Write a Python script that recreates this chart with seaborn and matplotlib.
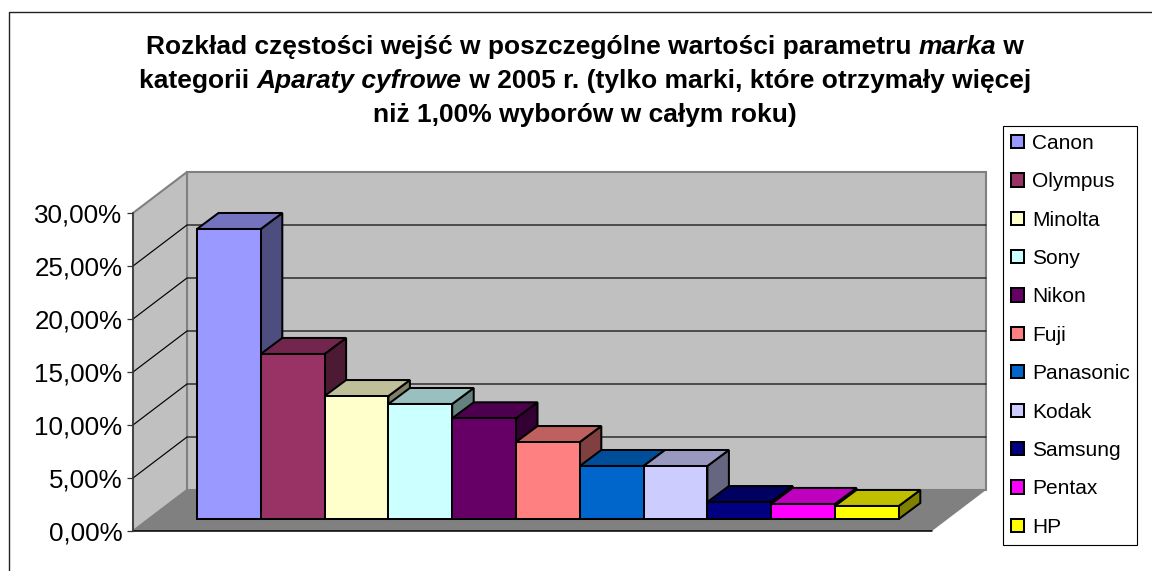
import matplotlib
matplotlib.use('Agg')
import matplotlib.pyplot as plt
import pandas as pd
import seaborn as sns
from matplotlib.colors import to_rgb
from matplotlib.lines import Line2D
from matplotlib.patches import Polygon
from matplotlib.ticker import FuncFormatter

# dane
marki = ['Canon', 'Olympus', 'Minolta', 'Sony', 'Nikon', 'Fuji', 'Panasonic',
         'Kodak', 'Samsung', 'Pentax', 'HP']
udzial = [27.36, 15.57, 11.6, 10.85, 9.5, 7.26, 5.0, 5.0, 1.6, 1.42, 1.23]
kolory = ['#9999FF', '#993366', '#FFFFCC', '#CCFFFF', '#660066', '#FF8080',
          '#0066CC', '#CCCCFF', '#000080', '#FF00FF', '#FFFF00']
y_ticks = [0, 5, 10, 15, 20, 25, 30]
tytul = [
    [('Rozkład częstości wejść w poszczególne wartości parametru ', 'normal'),
     ('marka', 'italic'), (' w', 'normal')],
    [('kategorii ', 'normal'), ('Aparaty cyfrowe', 'italic'),
     (' w 2005 r. (tylko marki, które otrzymały więcej', 'normal')],
    [('niż 1,00% wyborów w całym roku)', 'normal')],
]

W, H = 1152, 571
PX_CAT = 63.8   # szerokosc slupka w pikselach
PX_PCT = 10.6   # pikseli na 1%
BAR_X0 = 197    # lewa krawedz pierwszego slupka
BAR_Y0 = 519    # podstawa slupkow


def dx(px):
    return (px - BAR_X0) / PX_CAT - 0.5


def dy(py):
    return (BAR_Y0 - py) / PX_PCT


sns.set_theme(style='white')
plt.rcParams['font.family'] = ['Liberation Sans', 'DejaVu Sans']
plt.rcParams['text.color'] = 'black'

fig = plt.figure(figsize=(W / 100, H / 100), dpi=100, facecolor='white')
ax = fig.add_axes([0, 0, 1, 1])

df = pd.DataFrame({'marka': marki, 'udzial': udzial})
sns.barplot(data=df, x='marka', y='udzial', hue='marka', hue_order=marki,
            palette=dict(zip(marki, kolory)), saturation=1, width=1, dodge=False,
            edgecolor='black', linewidth=1.45, legend=True, ax=ax)
for p in ax.patches:
    p.set_zorder(5)

ax.set_xlim(dx(0), dx(W))
ax.set_ylim(dy(H), dy(0))
ax.set_axis_off()

# sciany i podloga
front_x0, front_x1, back_x0, back_x1 = dx(133), dx(932), dx(187), dx(986)
front_y, back_y = dy(531), dy(490)
back_top = back_y + max(y_ticks)
front_top = front_y + max(y_ticks)
ax.add_patch(Polygon([(back_x0, back_y), (back_x1, back_y), (back_x1, back_top), (back_x0, back_top)],
                     fc='#C0C0C0', ec='#808080', lw=1.5, zorder=1))
ax.add_patch(Polygon([(front_x0, front_y), (back_x0, back_y), (back_x0, back_top), (front_x0, front_top)],
                     fc='#C0C0C0', ec='#808080', lw=1.5, zorder=1))
ax.add_patch(Polygon([(front_x0, front_y), (back_x0, back_y), (back_x1, back_y), (front_x1, front_y)],
                     fc='#808080', ec='none', zorder=1))
ax.plot([front_x0, front_x1], [front_y, front_y], color='black', lw=1.1, zorder=1.5)
for t in y_ticks[1:-1]:
    ax.plot([front_x0, back_x0, back_x1], [front_y + t, back_y + t, back_y + t],
            color='black', lw=0.85, zorder=1.5)

# boki i wierzch slupkow
depth_x = 21.5 / PX_CAT
depth_y = 16 / PX_PCT
for i, (v, c) in enumerate(zip(udzial, kolory)):
    rgb = to_rgb(c)
    l, r = i - 0.5, i + 0.5
    ax.add_patch(Polygon([(r, 0), (r + depth_x, depth_y), (r + depth_x, v + depth_y), (r, v)],
                         fc=[x * 0.5 for x in rgb], ec='black', lw=1.45, zorder=2 + i * 0.01))
    ax.add_patch(Polygon([(l, v), (l + depth_x, v + depth_y), (r + depth_x, v + depth_y), (r, v)],
                         fc=[x * 0.75 for x in rgb], ec='black', lw=1.45, zorder=2 + i * 0.01))

# os y
ax_y = fig.add_axes([133 / W, (H - 531) / H, 0.001, (531 - 213) / H])
ax_y.patch.set_alpha(0)
ax_y.set_ylim(0, 30)
ax_y.set_yticks(y_ticks)
ax_y.set_xticks([])
ax_y.yaxis.set_major_formatter(FuncFormatter(lambda v, _: f'{v:.2f}%'.replace('.', ',')))
ax_y.tick_params(axis='y', left=True, length=4.3, width=0.9, color='#333333',
                 labelsize=18.7, labelcolor='black', pad=3.2)
sns.despine(ax=ax_y, bottom=True, top=True, right=True)
ax_y.spines['left'].set_color('#333333')
ax_y.spines['left'].set_linewidth(1.1)

# legenda
sns.move_legend(ax, 'upper left', bbox_to_anchor=(1003 / W, 1 - 126 / H),
                bbox_transform=fig.transFigure, title=None, frameon=True, fontsize=15,
                fancybox=False, edgecolor='black', framealpha=1, borderaxespad=0,
                handlelength=0.62, handleheight=0.6, handletextpad=0.38,
                labelspacing=0.93, borderpad=0.38, labelcolor='black')
leg = ax.get_legend()
leg.get_frame().set_linewidth(0.8)
leg.set_zorder(10)

# ramka wykresu: tylko gora i lewa strona mieszcza sie w kadrze
fig.add_artist(Line2D([9 / W, 9 / W, 1], [0, 1 - 11.5 / H, 1 - 11.5 / H], transform=fig.transFigure,
                      color='#222222', lw=1.0))

# tytul: wiersze skladane z kawalkow prostych i pochylonych
fig.canvas.draw()
renderer = fig.canvas.get_renderer()
for line, y_px in zip(tytul, [54, 88, 122]):
    parts = [fig.text(0, 1 - y_px / H, s, fontsize=19, fontweight='bold', style=st,
                      color='black', va='baseline', ha='left') for s, st in line]
    widths = [p.get_window_extent(renderer).width for p in parts]
    x = 585 - sum(widths) / 2
    for p, w in zip(parts, widths):
        p.set_x(x / W)
        x += w

fig.savefig('out.png', dpi=100, facecolor='white')
